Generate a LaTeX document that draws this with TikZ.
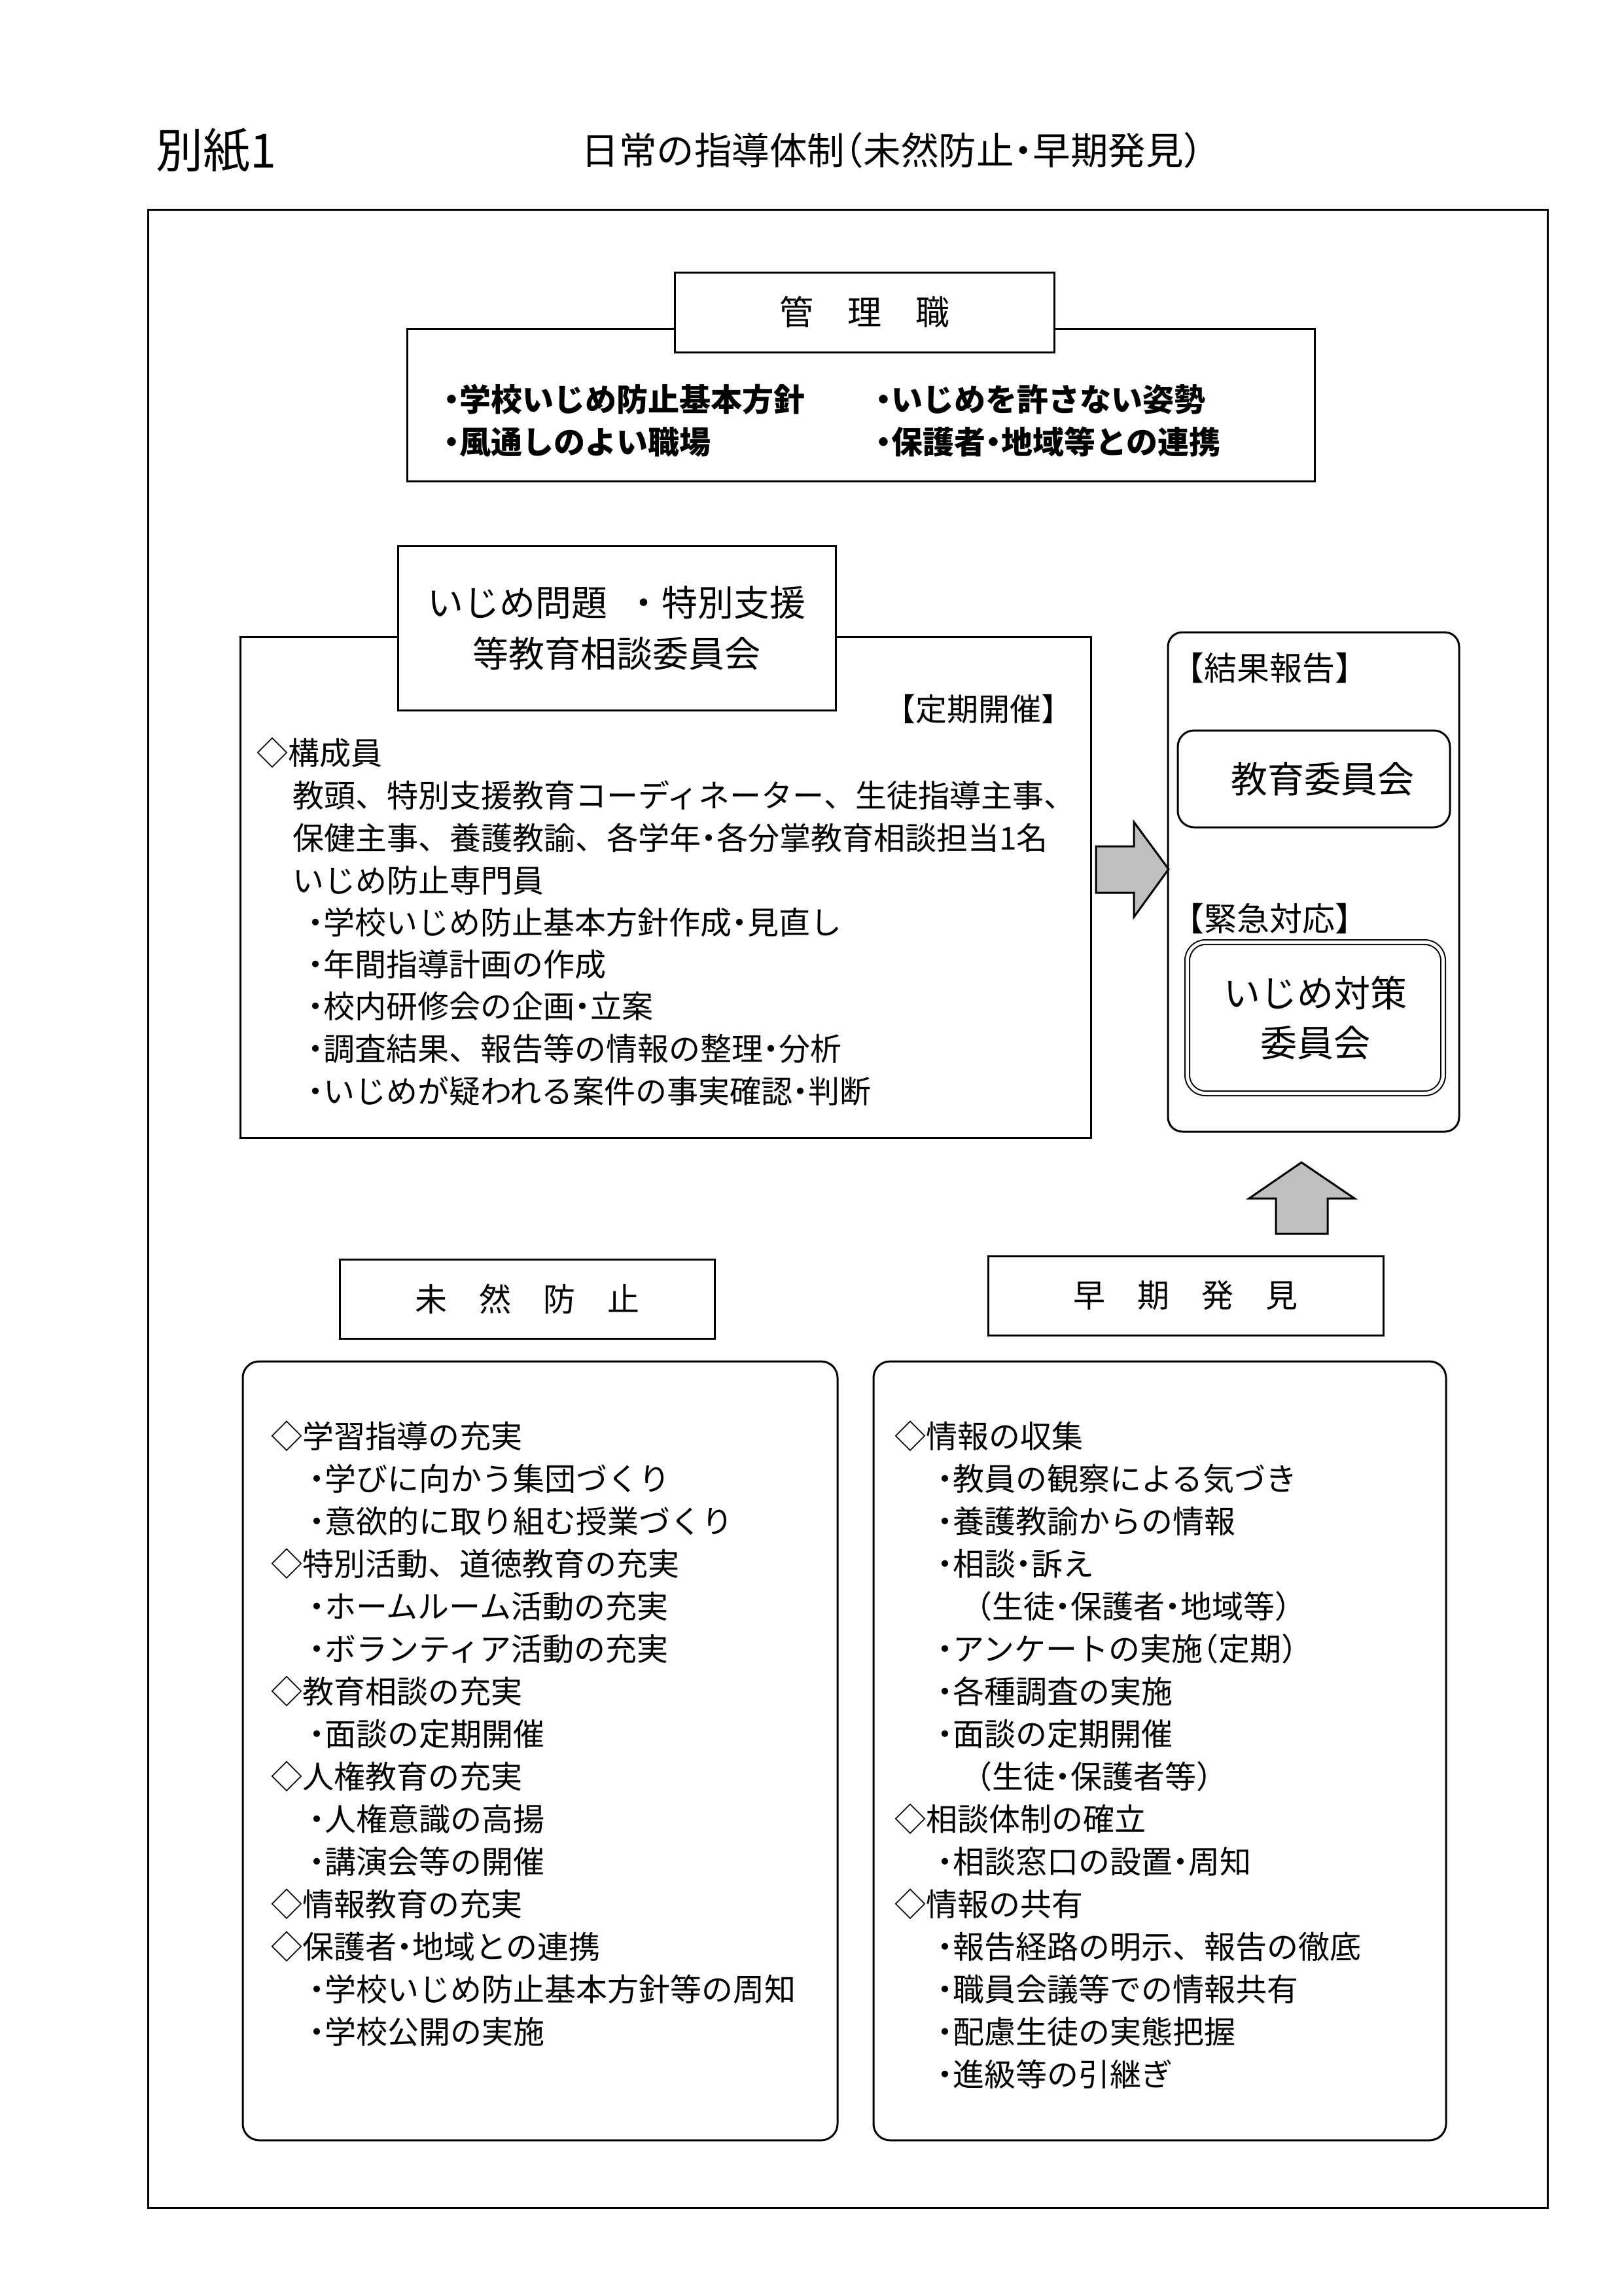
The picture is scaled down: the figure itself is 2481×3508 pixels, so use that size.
\documentclass[tikz,border=0pt]{standalone}
\usepackage{fontspec}
\setmainfont{Noto Sans CJK JP}
\newcommand\hnk{\makebox[0.5em][c]{・}}
\newcommand\hten{\makebox[0.5em][l]{、}}
\newcommand\hlp{\makebox[0.5em][r]{（}}
\newcommand\hrp{\makebox[0.5em][l]{）}}
\newcommand\fsz[1]{\fontsize{#1}{#1}\selectfont}
\begin{document}
\begin{tikzpicture}[x=1pt,y=-1pt,
  box/.style={draw, line width=3pt, fill=white, inner sep=0pt},
  rbox/.style={box, rounded corners=25pt},
  ln/.style={anchor=west, inner sep=0pt, font=\fsz{48}, text height=42pt, text depth=6pt},
  lnb/.style={ln, font=\fsz{48}\bfseries},
  garrow/.style={draw, line width=3pt, fill=black!25, line join=miter}
]
\useasboundingbox (0,0) rectangle (2481,3508);

% header
\node[anchor=west, inner sep=0pt, font=\fsz{72}] (bessi) at (238,230) {別紙1};
\node[inner sep=0pt, font=\fsz{57.5}] (title) at (1363,230) {日常の指導体制\hlp 未然防止\hnk 早期発見\hrp};

% outer frame
\node[draw, line width=3pt, inner sep=0pt, minimum width=2139pt, minimum height=3053pt] (frame) at (1295.5,1846.5) {};

% kanrishoku
\node[box, minimum width=1387pt, minimum height=233pt] (kbody) at (1315.5,618.5) {};
\node[box, minimum width=580pt, minimum height=122pt, font=\fsz{52}] (ktitle) at (1321,477) {管\hspace{1em}理\hspace{1em}職};
\node[lnb] (k1) at (678,610) {\hnk 学校いじめ防止基本方針};
\node[lnb] (k2) at (678,675) {\hnk 風通しのよい職場};
\node[lnb] (k3) at (1338,610) {\hnk いじめを許さない姿勢};
\node[lnb] (k4) at (1338,675) {\hnk 保護者\hnk 地域等との連携};

% committee
\node[box, minimum width=1300pt, minimum height=765pt] (cbody) at (1017,1355.5) {};
\node[box, minimum width=669pt, minimum height=251pt, align=center, font={\fontsize{55}{78}\selectfont}] (ctitle) at (942.5,959.5) {いじめ問題\hspace{0.5em}・特別支援\\等教育相談委員会};
\node[ln, anchor=east] (teiki) at (1640,1083) {【定期開催】};
\node[ln] (c1) at (392,1150) {◇構成員};
\node[ln] (c2) at (447,1215) {教頭、特別支援教育コーディネーター、生徒指導主事\hten};
\node[ln] (c3) at (447,1280) {保健主事、養護教諭、各学年\hnk 各分掌教育相談担当1名};
\node[ln] (c4) at (447,1345) {いじめ防止専門員};
\node[ln] (c5) at (470,1409) {\hnk 学校いじめ防止基本方針作成\hnk 見直し};
\node[ln] (c6) at (470,1473) {\hnk 年間指導計画の作成};
\node[ln] (c7) at (470,1537) {\hnk 校内研修会の企画\hnk 立案};
\node[ln] (c8) at (470,1602) {\hnk 調査結果、報告等の情報の整理\hnk 分析};
\node[ln] (c9) at (470,1667) {\hnk いじめが疑われる案件の事実確認\hnk 判断};

% right arrow
\draw[garrow] (1675,1293) -- (1733,1293) -- (1733,1256) -- (1786,1328) -- (1733,1401) -- (1733,1364) -- (1675,1364) -- cycle;

% right column
\node[draw, line width=3pt, rounded corners=22pt, inner sep=0pt, minimum width=445pt, minimum height=763pt] (rcol) at (2007.5,1347.5) {};
\node[ln, font=\fsz{50}] (kekka) at (1790,1021) {【結果報告】};
\node[draw, line width=3pt, rounded corners=25pt, inner sep=0pt, minimum width=416pt, minimum height=148pt] (kyoiku) at (2008,1190) {};
\node[inner sep=0pt, font=\fsz{56}] (kyoikut) at (2021,1190) {教育委員会};
\node[ln, font=\fsz{50}] (kinkyu) at (1790,1404) {【緊急対応】};
\node[draw, line width=2pt, double, double distance=5pt, rounded corners=28pt, inner sep=0pt, minimum width=391pt, minimum height=231pt, align=center, font={\fontsize{56}{76}\selectfont}] (taisaku) at (2010,1555) {いじめ対策\\委員会};

% up arrow
\draw[garrow] (1950,1885) -- (1950,1831) -- (1909,1831) -- (1989,1776) -- (2070,1831) -- (2029,1831) -- (2029,1885) -- cycle;

% titles
\node[box, minimum width=573pt, minimum height=121pt, font=\fsz{49}] (mizen) at (805.5,1984.5) {未\hspace{1em}然\hspace{1em}防\hspace{1em}止};
\node[box, minimum width=604pt, minimum height=121pt, font=\fsz{49}] (soki) at (1812,1979.5) {早\hspace{1em}期\hspace{1em}発\hspace{1em}見};

% bottom boxes
\node[rbox, minimum width=909pt, minimum height=1190pt] (lbox) at (825.5,2675) {};
\node[rbox, minimum width=875pt, minimum height=1190pt] (rbox) at (1772.5,2675) {};

\foreach \x/\t [count=\i from 0] in {
  414/◇学習指導の充実,
  472/\hnk 学びに向かう集団づくり,
  472/\hnk 意欲的に取り組む授業づくり,
  414/◇特別活動、道徳教育の充実,
  472/\hnk ホームルーム活動の充実,
  472/\hnk ボランティア活動の充実,
  414/◇教育相談の充実,
  472/\hnk 面談の定期開催,
  414/◇人権教育の充実,
  472/\hnk 人権意識の高揚,
  472/\hnk 講演会等の開催,
  414/◇情報教育の充実,
  414/◇保護者\hnk 地域との連携,
  472/\hnk 学校いじめ防止基本方針等の周知,
  472/\hnk 学校公開の実施}
  \node[ln] (L\i) at (\x,{2194+65*\i}) {\t};

\foreach \x/\t [count=\i from 0] in {
  1367/◇情報の収集,
  1432/\hnk 教員の観察による気づき,
  1432/\hnk 養護教諭からの情報,
  1432/\hnk 相談\hnk 訴え,
  1492/\hlp 生徒\hnk 保護者\hnk 地域等\hrp,
  1432/\hnk アンケートの実施\hlp 定期\hrp,
  1432/\hnk 各種調査の実施,
  1432/\hnk 面談の定期開催,
  1492/\hlp 生徒\hnk 保護者等\hrp,
  1367/◇相談体制の確立,
  1432/\hnk 相談窓口の設置\hnk 周知,
  1367/◇情報の共有,
  1432/\hnk 報告経路の明示、報告の徹底,
  1432/\hnk 職員会議等での情報共有,
  1432/\hnk 配慮生徒の実態把握,
  1432/\hnk 進級等の引継ぎ}
  \node[ln] (R\i) at (\x,{2194+65*\i}) {\t};
\end{tikzpicture}
\end{document}
